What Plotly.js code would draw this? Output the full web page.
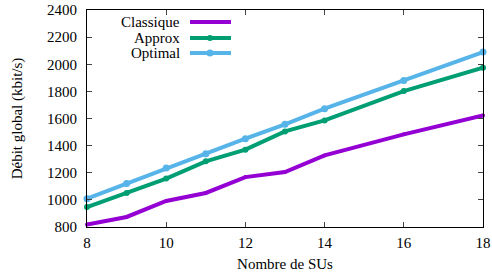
<!DOCTYPE html>
<html><head><meta charset="utf-8">
<script src="https://cdn.plot.ly/plotly-3.0.1.min.js"></script>
<style>body{margin:0;padding:0;background:#fff}#c{width:492px;height:278px}</style>
</head><body><div id="c"></div>
<script>
const nbSUs = [8, 9, 10, 11, 12, 13, 14, 16, 18];
const classique = [818, 874, 992, 1051, 1168, 1205, 1328, 1483, 1623];
const approx = [947, 1051, 1157, 1284, 1370, 1505, 1586, 1802, 1975];
const optimal = [1009, 1120, 1235, 1341, 1451, 1557, 1672, 1881, 2090];
const seriesNames = ['Classique', 'Approx', 'Optimal'];
const colors = ['#9400D3', '#009E73', '#56B4E9'];
const xTicks = [8, 10, 12, 14, 16, 18];
const yTicks = [800, 1000, 1200, 1400, 1600, 1800, 2000, 2200, 2400];

const fam = 'Liberation Serif, Times New Roman, serif';
const font = {family: fam, size: 15, color: '#000'};
const series = [classique, approx, optimal];
const markerSizes = [4, 6, 7];
const traces = series.map((ys, i) => ({
  x: nbSUs, y: ys, type: 'scatter', mode: 'lines+markers', name: seriesNames[i],
  line: {color: colors[i], width: 4},
  marker: {color: colors[i], size: markerSizes[i], symbol: 'circle'},
  showlegend: false, cliponaxis: false
}));

const legY = [22, 38, 53];
const H = 278, W = 492, L = 87, R = 9, T = 10, B = 51;
const pw = W - L - R, ph = H - T - B;
const px = v => (v - L) / pw;
const py = v => 1 - (v - T) / ph;
const annotations = [], shapes = [];
seriesNames.forEach((n, i) => {
  annotations.push({xref: 'paper', yref: 'paper', x: px(182), y: py(legY[i]), xanchor: 'right', yanchor: 'middle',
    text: n, showarrow: false, font: font});
  shapes.push({type: 'line', xref: 'paper', yref: 'paper', x0: px(190), x1: px(231), y0: py(legY[i]), y1: py(legY[i]),
    line: {color: colors[i], width: 4}});
  const r = markerSizes[i] / 2;
  shapes.push({type: 'circle', xref: 'paper', yref: 'paper', x0: px(210 - r), x1: px(210 + r), y0: py(legY[i] - r), y1: py(legY[i] + r),
    fillcolor: colors[i], line: {width: 0}});
});

const layout = {
  width: W, height: H,
  margin: {l: L, r: R, t: T, b: B, pad: 0},
  paper_bgcolor: '#fff', plot_bgcolor: '#fff',
  font: font,
  showlegend: false,
  xaxis: {range: [8, 18], tickvals: xTicks, ticktext: xTicks.map(String), ticks: 'inside', ticklen: 5,
    showline: true, linecolor: '#000', linewidth: 1, mirror: 'allticks', showgrid: false, zeroline: false,
    tickfont: font, ticklabelstandoff: 2, title: {text: 'Nombre de SUs', font: font, standoff: 8}},
  yaxis: {range: [800, 2400], tickvals: yTicks, ticktext: yTicks.map(String), ticks: 'inside', ticklen: 5,
    showline: true, linecolor: '#000', linewidth: 1, mirror: 'allticks', showgrid: false, zeroline: false,
    tickfont: font, ticklabelstandoff: 6, title: {text: 'Débit global (kbit/s)', font: {family: fam, size: 15, color: '#000'}, standoff: 20}},
  annotations: annotations, shapes: shapes
};
Plotly.newPlot('c', traces, layout, {displayModeBar: false, staticPlot: true});
</script></body></html>
